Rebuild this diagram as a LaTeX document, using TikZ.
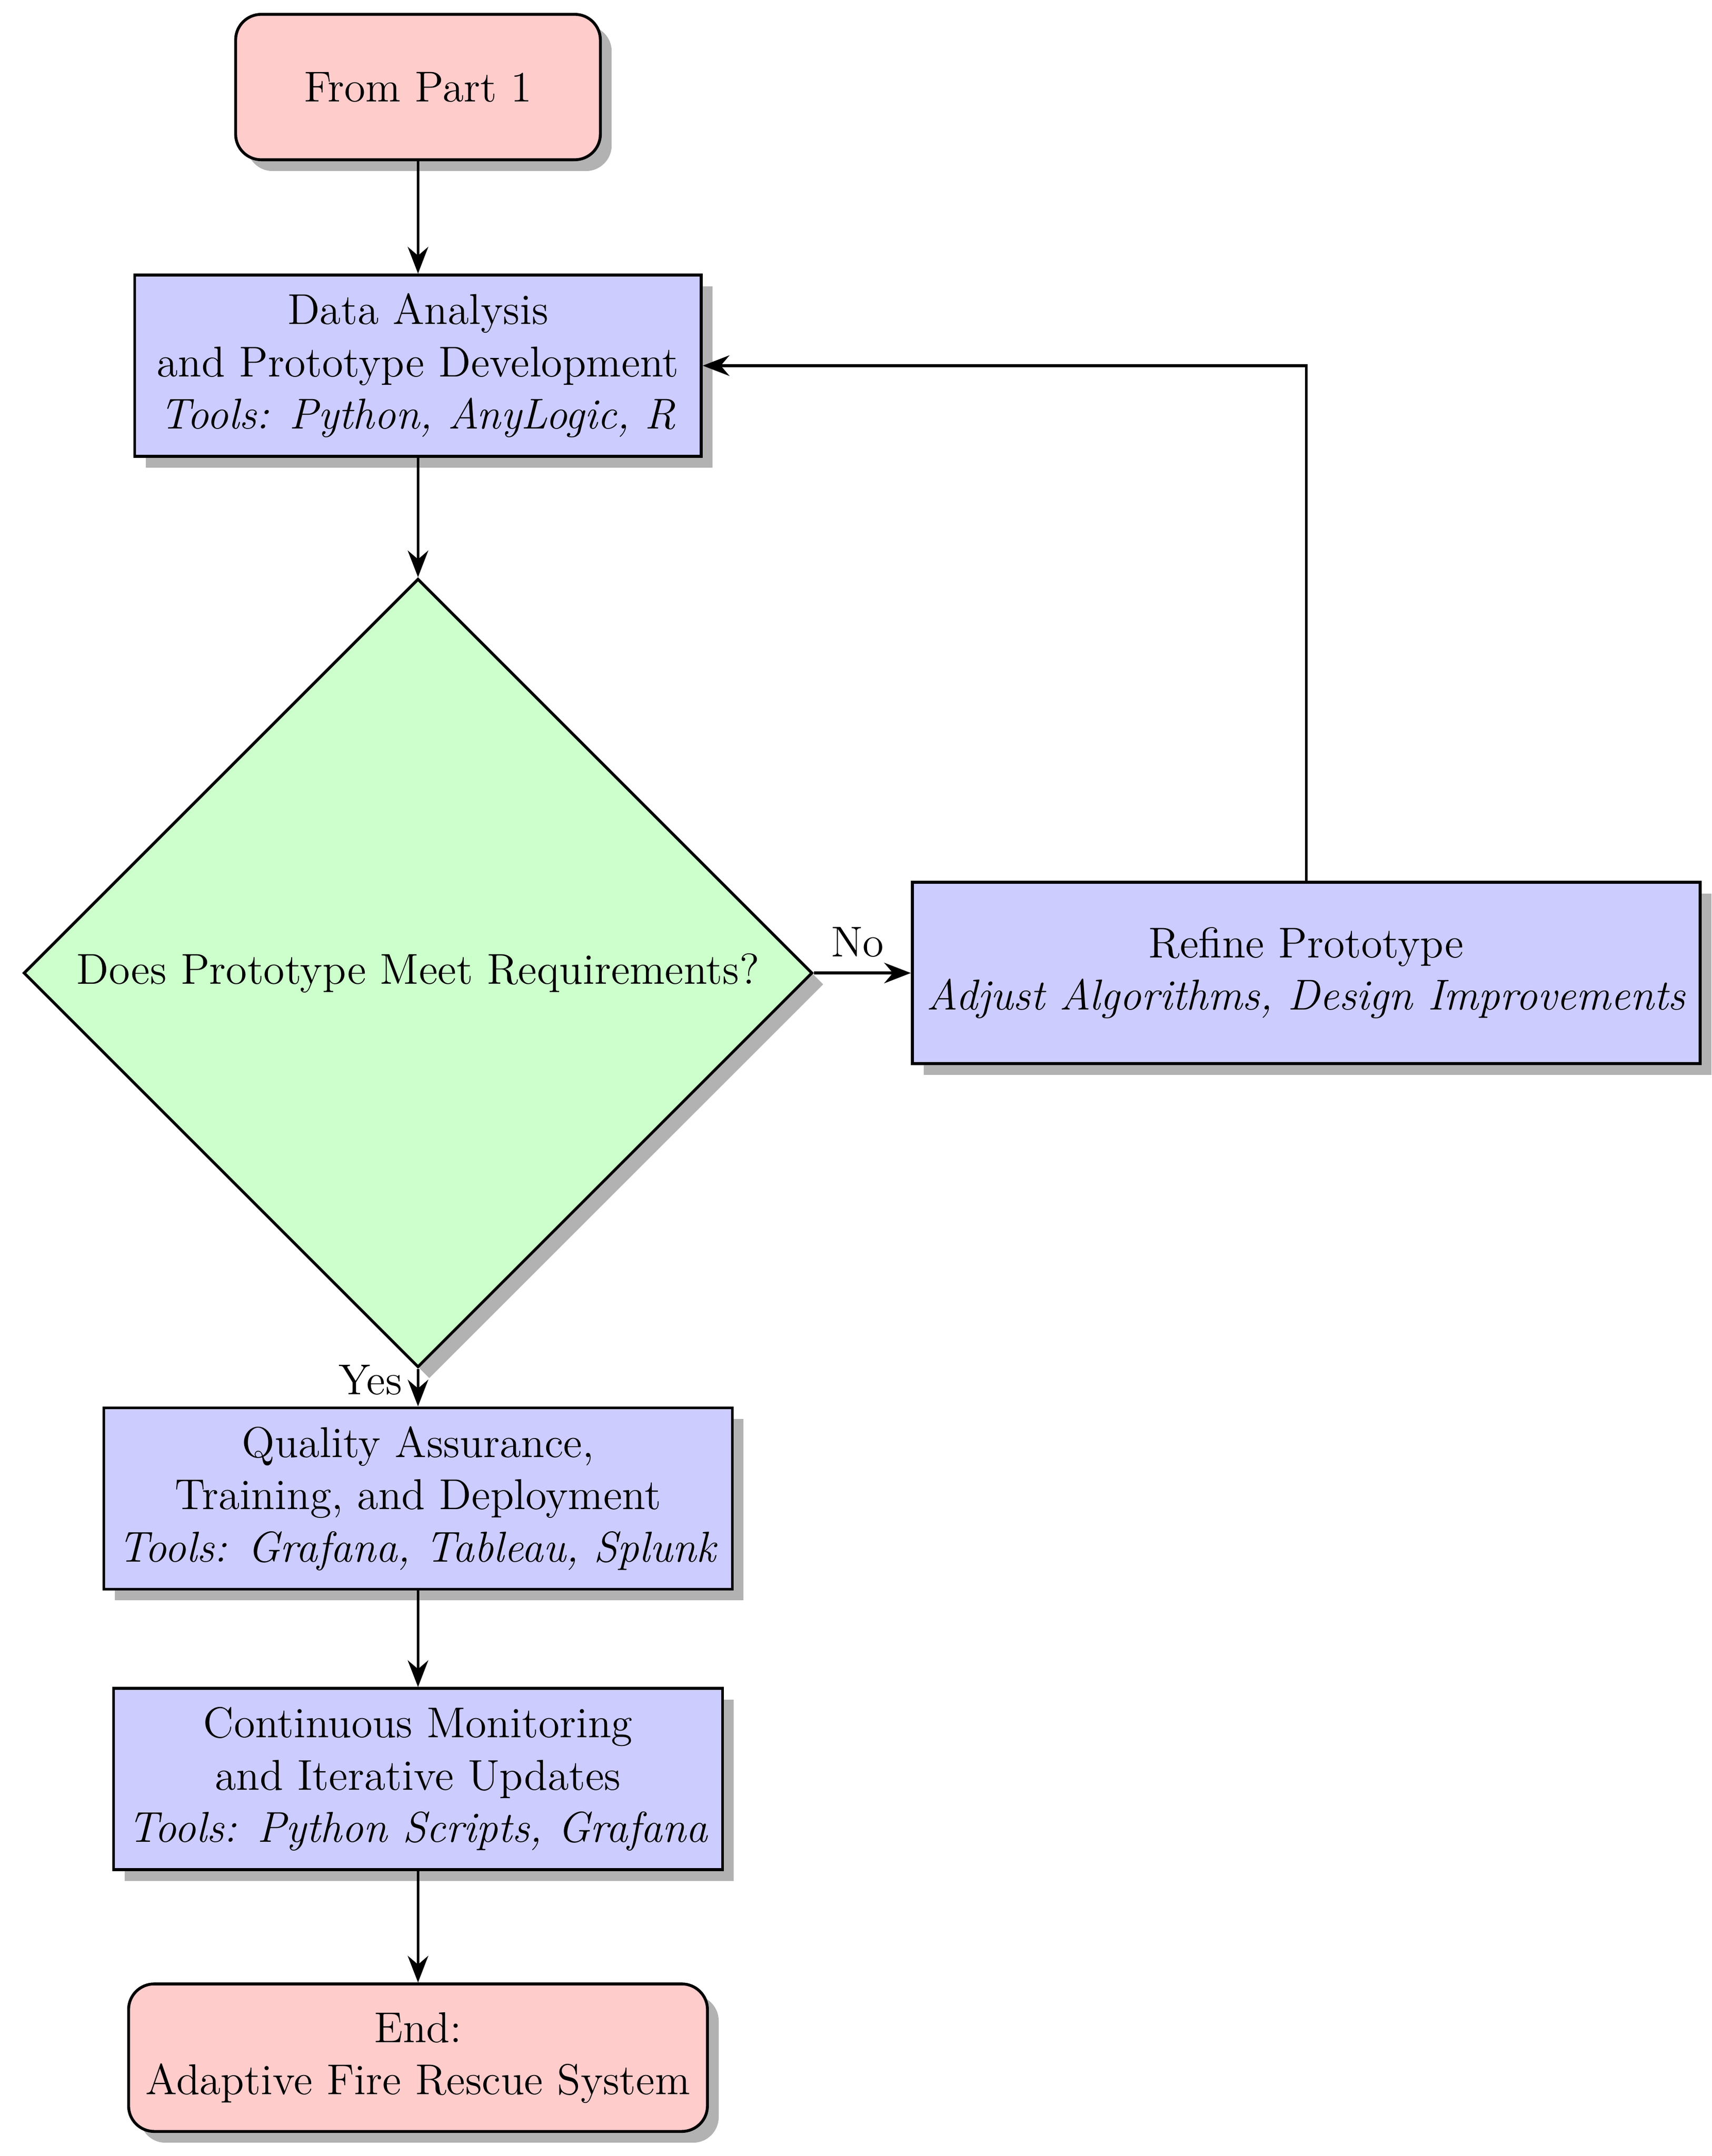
\documentclass[tikz,border=0pt,12pt]{standalone}
\usetikzlibrary{shapes.geometric,shadows,arrows.meta}
\begin{document}
\begin{tikzpicture}
		\tikzstyle{arrow} = [-{Stealth[length=2.6mm,width=2mm]}, thick]
		\tikzstyle{shad} = [drop shadow={shadow xshift=1.1mm, shadow yshift=-1.1mm, fill=black!30, opacity=1}]
		\tikzstyle{term} = [rectangle, rounded corners=2.5mm, draw, thick, fill=red!20, shad, align=center, font=\normalsize]
		\tikzstyle{process} = [rectangle, draw, thick, fill=blue!20, shad, align=center, font=\normalsize, minimum height=1.77cm]
		\tikzstyle{decision} = [diamond, draw, thick, fill=green!20, shad, minimum size=7.7cm, inner sep=0]
		\useasboundingbox (0,0) rectangle (16.71,-21.05);
		\node [term, minimum width=3.56cm, minimum height=1.42cm] (start) at (4.08,-0.85) {From Part 1};
		\node [process, minimum width=5.53cm] (data) at (4.08,-3.57) {Data Analysis\\and Prototype Development\\\textit{Tools: Python, AnyLogic, R}};
		\node [decision] (dec) at (4.08,-9.50) {};
		\node [font=\normalsize] (dectext) at (dec) {Does Prototype Meet Requirements?};
		\node [process, minimum width=7.38cm] (refine) at (12.75,-9.50) {Refine Prototype\\\textit{Adjust Algorithms, Design Improvements}};
		\node [process, minimum width=5.64cm] (qa) at (4.08,-14.63) {Quality Assurance,\\Training, and Deployment\\\textit{Tools: Grafana, Tableau, Splunk}};
		\node [process, minimum width=5.48cm] (cont) at (4.08,-17.37) {Continuous Monitoring\\and Iterative Updates\\\textit{Tools: Python Scripts, Grafana}};
		\node [term, minimum width=5.65cm, minimum height=1.44cm] (end) at (4.08,-20.09) {End:\\Adaptive Fire Rescue System};
		\draw [arrow] (start) -- (data);
		\draw [arrow] (data) -- (dec);
		\draw [arrow] (dec.east) -- node [above, font=\normalsize, pos=0.45] {No} (refine);
		\draw [arrow] (dec.south) -- node [left, font=\normalsize, pos=0.3] {Yes} (qa);
		\draw [arrow] (refine.north) |- (data.east);
		\draw [arrow] (qa) -- (cont);
		\draw [arrow] (cont) -- (end);
\end{tikzpicture}
\end{document}
